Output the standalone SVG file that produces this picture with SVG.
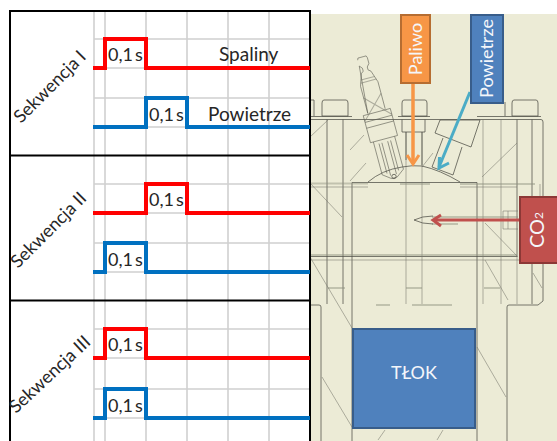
<svg xmlns="http://www.w3.org/2000/svg" width="557" height="441" viewBox="0 0 557 441">
<style>
.g{stroke:#d0d0d0;stroke-width:1.6;fill:none}
.b{stroke:#000;stroke-width:2;fill:none}
.r{stroke:#ff0000;stroke-width:4;fill:none}
.u{stroke:#0070c0;stroke-width:4;fill:none}
.t{font-family:Lato,"Liberation Sans",sans-serif;font-size:18px;fill:#262626}
.s{font-family:Lato,"Liberation Sans",sans-serif;font-size:18px;fill:#262626;word-spacing:-2.500px}
.n{font-family:Lato,"Liberation Sans",sans-serif;font-size:19px;fill:#262626}
.w{font-family:Lato,"Liberation Sans",sans-serif;font-size:18px;fill:#f4f6fa;text-anchor:middle}
.d{stroke:#4e4e46;stroke-width:1;fill:none;opacity:.75}
.l{stroke:#77776c;stroke-width:1;fill:none;opacity:.55}
.h{stroke:#8f907f;stroke-width:2;fill:none;opacity:.45}
.p{stroke:#5a5a50;stroke-width:.8;fill:none;opacity:.7}
</style>
<rect width="557" height="441" fill="#fff"/>
<g id="engine">
<rect x="310" y="14" width="247" height="427" fill="#ecebd6"/>
<path class="d" d="M310 119.500H541M310 256.500H517M352 182.500H477M310 305H319Q321 305 321 307V441M507 441V307Q507 305 509 305H538L543 301V122Q543 119.500 541 119.500"/>
<path class="d" d="M352 182.500V441M477 182.500V441M517 119.500V256.500M532 119.500V304M327 119.500V304M343 119.500V304"/>
<path class="l" d="M406 132V304M422 132V304M483 119.500V304M501 119.500V304M517 256V304M540 184V198M310 260H530M310 187H368M460 187H517"/>
<path class="h" d="M310 183.500H368M400 184H430M460 184H535M310 255H517M412 305H452M376 305H390M432 217H518M432 224H458M336 288H345M406 288H422M484 288H500M328 288H340"/>
<path class="l" d="M328 120L310 137M310 183L342 217M310 257L352 328M322 377L352 427M477 347L506 397M485 260L508 300M385 430L378 440M443 430L437 440M517 143L482 177M485 223L518 257M533 273L542 288M350 181L366 163M422 167L433 153M350 150L364 135"/>
<path class="d" d="M324 100H346Q348 100 348 103V116H322V103Q322 100 324 100M404 100H425Q427 100 427 103V116H402V103Q402 100 404 100M505 102V116M514 100H536Q538 100 538 103V116H512V103Q512 100 514 100M310 100H314V116"/>
<path class="d" d="M310 116.500H352M398 116.500H430M477 116.500H541M402 119.500V132H425V119.500M406 132V160M422 132V165"/>
<path class="d" d="M368 182Q382 170 402 167Q412 165 422 166Q440 170 460 182"/>
<path class="d" d="M435 133L440 120H480L471 147ZM443 138L432 167L453 175L462 147"/>
<g transform="translate(362 57) rotate(-15)">
<path class="p" d="M-5 2Q-5 -1 -2 0H2Q5 -1 5 2V8L2.500 11V14L5 16L9 28V56M-9 56V28L-5 16L-2.500 14V11L-5 8Z"/>
<path class="l" d="M-7 22H7M-8 25H8M-9 40L14 63M9 40L-14 63"/>
<path class="p" d="M-14 57H14V85H-14ZM-14 64H14M-14 70H14M-11 85V119L-3 125H3L11 119V85M-6 88V119M-3 88V122M3 88V122M6 88V119"/>
</g>
<circle cx="394" cy="176.500" r="2.200" class="d"/>
<path d="M414 220Q422 216 433 216M414 220Q422 224 433 224" class="d"/>
<path d="M503 211h15M503 229h15M503 211v18M508 211v18" class="l"/>
</g>
<g id="connectors">
<path d="M413 83V164" stroke="#f79646" stroke-width="3.500" fill="none"/>
<path d="M407 155L413 164L419 155" stroke="#f79646" stroke-width="3" fill="none"/>
<path d="M470 92L439 167" stroke="#4bacc6" stroke-width="3" fill="none"/>
<path d="M439.500 157L439 168L449 163" stroke="#4bacc6" stroke-width="3" fill="none"/>
<path d="M519 220H434" stroke="#c0504d" stroke-width="3" fill="none"/>
<path d="M441 215L433 220L441 226" stroke="#c0504d" stroke-width="3" fill="none"/>
</g>
<g id="paliwo"><rect x="401" y="15" width="29" height="68" fill="#f79646" stroke="#b66d31" stroke-width="2"/><text class="w" transform="translate(422 49) rotate(-90)">Paliwo</text></g>
<g id="powietrze"><rect x="471" y="15" width="32" height="88" fill="#4f81bd" stroke="#385d8a" stroke-width="2"/><text class="w" transform="translate(493 58.500) rotate(-90)">Powietrze</text></g>
<g id="co2"><rect x="520" y="197" width="38" height="66" fill="#c0504d" stroke="#8c3836" stroke-width="2"/><text class="w" style="font-size:20px" transform="translate(544 230) rotate(-90)">CO<tspan font-size="12" dy="-1">2</tspan></text></g>
<g id="tlok"><rect x="353" y="329" width="122" height="99" fill="#4f81bd" stroke="#385d8a" stroke-width="2"/><text class="w" x="414" y="379">TŁOK</text></g>
<g id="grid">
<path class="g" d="M94 11V441M105 11V441M146 11V441M187 11V441M228 11V441M269 11V441"/>
<path class="g" d="M94 39H310M94 68H310M94 98H310M94 127H310M94 184H310M94 213H310M94 243H310M94 272H310M94 329H310M94 358H310M94 389H310M94 418H310"/>
</g>
<g id="table">
<path class="b" d="M10 441V11H310V441M10 155.500H310M10 300.500H310"/>
</g>
<g id="signals">
<path class="r" d="M93 68H105V39H146V68H310"/>
<path class="u" d="M93 127H146V98H187V127H310"/>
<path class="r" d="M93 213H146V184H187V213H310"/>
<path class="u" d="M93 272H105V243H146V272H310"/>
<path class="r" d="M93 358H105V329H146V358H310"/>
<path class="u" d="M93 418H105V389H146V418H310"/>
</g>
<g id="labels">
<text class="t" transform="translate(21 124) rotate(-45)">Sekwencja I</text>
<text class="t" transform="translate(18 269) rotate(-45)">Sekwencja II</text>
<text class="t" transform="translate(16 414) rotate(-43)">Sekwencja III</text>
<text class="s" x="108" y="61">0,1 s</text>
<text class="s" x="149" y="121">0,1 s</text>
<text class="s" x="149" y="206">0,1 s</text>
<text class="s" x="108" y="266">0,1 s</text>
<text class="s" x="108" y="351">0,1 s</text>
<text class="s" x="108" y="412">0,1 s</text>
<text class="n" x="219" y="61">Spaliny</text>
<text class="n" x="208" y="121">Powietrze</text>
</g>
</svg>
